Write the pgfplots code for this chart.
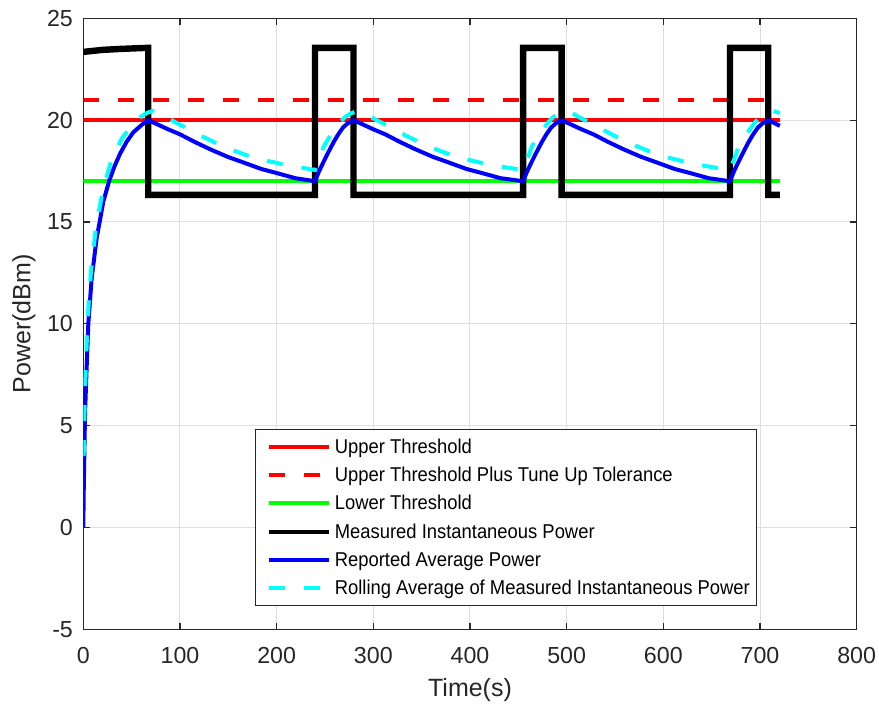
\documentclass[border=0pt]{standalone}
\usepackage{fontspec}
\setmainfont{Liberation Sans}
\newfontfamily\legendfont{Liberation Sans}[FakeStretch=0.92]
\usepackage{pgfplots}
\pgfplotsset{compat=1.18}
\definecolor{axgray}{HTML}{262626}
\definecolor{gridgray}{HTML}{DFDFDF}
\definecolor{mred}{RGB}{255,0,0}
\definecolor{mgreen}{RGB}{0,255,0}
\definecolor{mblue}{RGB}{0,0,255}
\definecolor{mcyan}{RGB}{0,255,255}
\begin{document}
\begin{tikzpicture}
\begin{axis}[
  scale only axis, width=386.7pt, height=305.5pt,
  xmin=0, xmax=800, ymin=-5, ymax=25,
  xtick={0,100,...,800}, ytick={-5,0,...,25},
  axis line style={axgray, line width=0.6pt},
  tick style={axgray, line width=0.6pt},
  major tick length=3.3pt,
  grid=major, major grid style={gridgray, line width=0.5pt},
  ticklabel style={font=\fontsize{11.6}{13}\selectfont, text=axgray, inner sep=0pt},
  /pgf/number format/assume math mode=true,
  xticklabel style={anchor=north, yshift=-8.7pt},
  yticklabel style={anchor=east, xshift=-5pt},
  xlabel={Time(s)}, ylabel={Power(dBm)},
  label style={font=\fontsize{12.5}{14}\selectfont, text=axgray},
  xlabel style={at={(axis description cs:0.5,-0.09935)}, anchor=center},
  ylabel style={at={(axis description cs:-0.07667,0.5)}, anchor=center},
  legend style={at={(rel axis cs:0.8715,0.0381)}, anchor=south east, draw=axgray, line width=0.5pt, fill=white,
    font=\legendfont\fontsize{10}{12}\selectfont, inner xsep=3.5pt, inner ysep=1.5pt, row sep=0pt, column sep=2pt,
    nodes={inner sep=0pt, text height=10.3pt, text depth=3.87pt}, cells={anchor=west}},
  legend image code/.code={\path[draw=none] (0pt,0pt) -- (3.15pt,0pt); \draw[#1, line width=2pt] (3.15pt,0pt) -- (33.15pt,0pt);},
]
\addplot[mred, line width=2pt, line cap=butt] coordinates {(0,20) (720.5,20)};
\addlegendentry{Upper Threshold}
\addplot[mred, line width=2pt, line cap=butt, dash pattern=on 8pt off 9.5pt] coordinates {(0,21) (720.5,21)};
\addlegendentry{Upper Threshold Plus Tune Up Tolerance}
\addplot[mgreen, line width=2pt, line cap=butt] coordinates {(0,17) (720.5,17)};
\addlegendentry{Lower Threshold}
\addplot[black, line width=3.2pt, line join=miter, line cap=butt] coordinates {
(0,23.35) (20,23.45) (40,23.5) (67.2,23.55) (67.2,16.33) (239.7,16.33) (239.7,23.55) (279.5,23.55) (279.5,16.33)
(455,16.33) (455,23.55) (494.8,23.55) (494.8,16.33) (668.9,16.33) (668.9,23.55) (708.5,23.55) (708.5,16.33) (720.5,16.33)};
\addlegendentry{Measured Instantaneous Power}
\addplot[mblue, line width=2pt, line join=round] coordinates {
(0,0) (0.5,2.0) (1,3.4) (1.8,5.6) (3.5,7.9) (5.2,10.0) (8.6,12.2) (13.8,14.2) (17.3,15.1) (20.7,16.0) (27,17.05) (32,17.7) (38,18.35) (45,18.95) (51.7,19.4) (60,19.75) (67.2,20.0)
(77.2,19.78) (87.2,19.56) (100.2,19.3) (115.2,18.93) (131.2,18.57) (149.2,18.2) (162.2,17.98) (184.2,17.6) (200.2,17.4) (219.2,17.15) (239.7,17.0)
(243.7,17.47) (248.2,17.92) (252.7,18.35) (258.7,18.9) (263.7,19.3) (268.7,19.64) (273.7,19.85) (279.5,20.0)
(289.5,19.78) (299.5,19.56) (312.5,19.3) (327.5,18.93) (343.5,18.57) (361.5,18.2) (374.5,17.98) (396.5,17.6) (412.5,17.4) (431.5,17.15) (455.0,17.0)
(459,17.47) (463.5,17.92) (468,18.35) (474,18.9) (479,19.3) (484,19.64) (489,19.85) (494.8,20.0)
(504.8,19.78) (514.8,19.56) (527.8,19.3) (542.8,18.93) (558.8,18.57) (576.8,18.2) (589.8,17.98) (611.8,17.6) (627.8,17.4) (646.8,17.15) (668.9,17.0)
(672.9,17.47) (677.4,17.92) (681.9,18.35) (687.9,18.9) (692.9,19.3) (697.9,19.64) (702.9,19.85) (708.5,20.0)
(714.5,19.86) (720.5,19.72)};
\addlegendentry{Reported Average Power}
\addplot[mcyan, line width=2pt, line cap=butt, dash pattern=on 8pt off 9.5pt] coordinates {
(0.4,3.5) (1,5.2) (2,7.0) (3.5,9.0) (5,10.6) (8,12.6) (13,14.7) (20,16.5) (29.4,18.1) (40,19.1) (48,19.6) (55,20.0) (62,20.25) (67.2,20.38)
(72.2,20.45) (77.2,20.38) (83.2,20.2) (91.2,20.0) (107.2,19.6) (122.2,19.22) (139.2,18.83) (156.7,18.49) (172.2,18.22) (190.7,18.0) (207.2,17.82) (225.7,17.67) (239.7,17.55)
(241.7,17.8) (244.7,18.15) (248.7,18.7) (253.7,19.1) (259.7,19.5) (265.7,19.9) (270.7,20.15) (275.7,20.3) (279.5,20.38)
(284.5,20.45) (289.5,20.38) (295.5,20.2) (303.5,20.0) (319.5,19.6) (334.5,19.22) (351.5,18.83) (369,18.49) (384.5,18.22) (403,18.0) (419.5,17.82) (438,17.67) (455,17.55)
(457,17.8) (460,18.15) (464,18.7) (469,19.1) (475,19.5) (481,19.9) (486,20.15) (491,20.3) (494.8,20.38)
(499.8,20.45) (504.8,20.38) (510.8,20.2) (518.8,20.0) (534.8,19.6) (549.8,19.22) (566.8,18.83) (584.3,18.49) (599.8,18.22) (618.3,18.0) (634.8,17.82) (653.3,17.67) (668.9,17.55)
(670.9,17.8) (673.9,18.15) (677.9,18.7) (682.9,19.1) (688.9,19.5) (694.9,19.9) (699.9,20.15) (704.9,20.3) (708.5,20.38)
(713.5,20.45) (718.5,20.38) (720.5,20.35)};
\addlegendentry{Rolling Average of Measured Instantaneous Power}
\end{axis}
\pgfresetboundingbox
\path[use as bounding box] (-41.65pt,-38.85pt) rectangle (397.85pt,314.65pt);
\end{tikzpicture}
\end{document}
